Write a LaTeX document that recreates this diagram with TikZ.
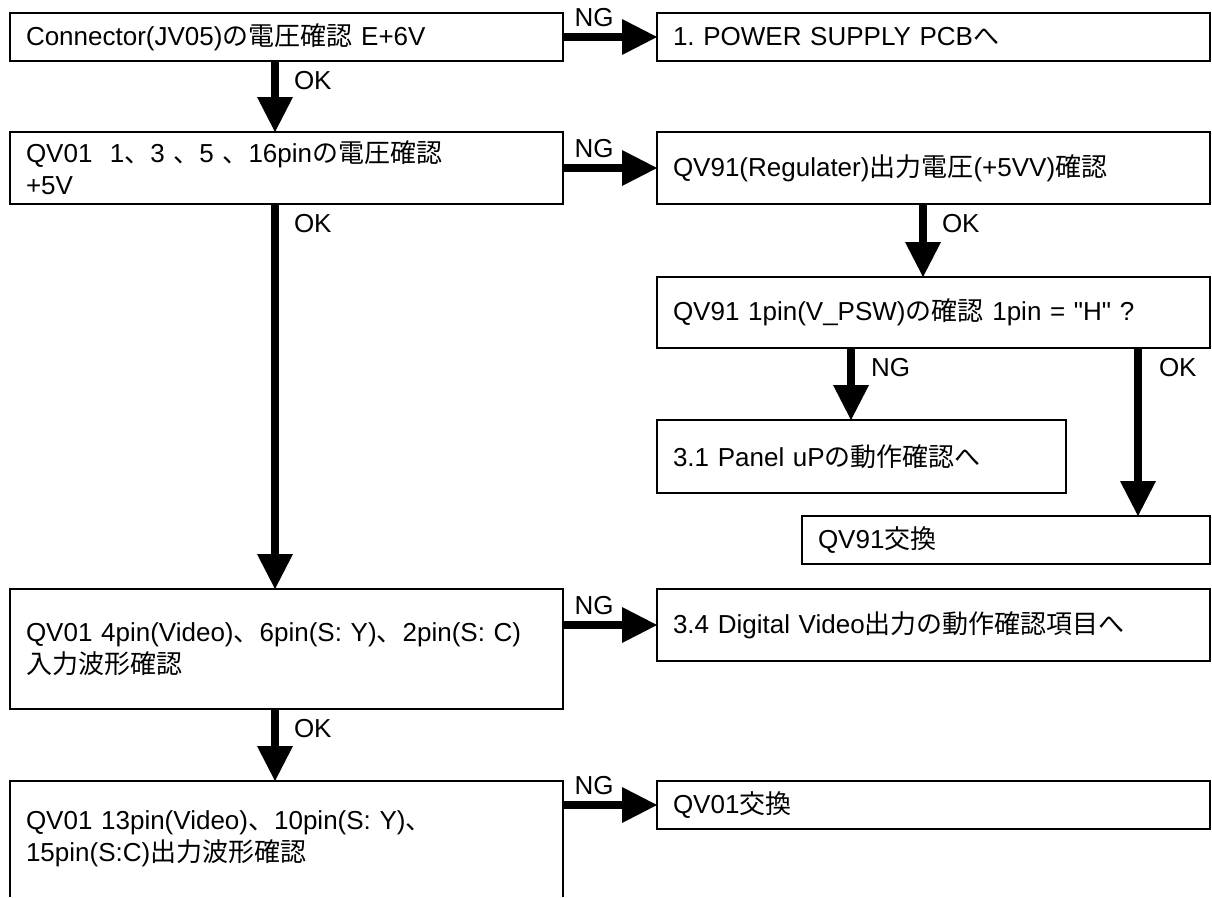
\documentclass[tikz,border=0pt]{standalone}
\usepackage{fontspec}
\setmainfont{Liberation Sans}
\newfontfamily\cjk{Noto Sans CJK JP}
\usetikzlibrary{arrows.meta}
\frenchspacing
\newcommand{\sq}{\XeTeXglyph\XeTeXcharglyph34\relax}
\tikzset{
  boxnode/.style={rectangle, line width=1.4pt, inner xsep=16pt, inner ysep=0pt, outer sep=0pt,
    align=left, font=\fontsize{26}{32}\selectfont, anchor=center},
  framed/.style={boxnode, draw},
  lab/.style={font=\fontsize{26}{30}\selectfont, inner sep=0pt},
  arr/.style={line width=8pt, -{Triangle[length=35pt,width=36pt,line width=0pt]}}
}
\newcommand{\bx}[7]{% name, left, top, right, bottom, style, text
  \node[#6, minimum width={#4-#2}, minimum height={#5-#3}, text width={#4-#2-32}]
    (#1) at ({(#2+#4)/2},{(#3+#5)/2}) {#7};}
\begin{document}
\begin{tikzpicture}[x=1pt,y=-1pt]
\useasboundingbox (0,0) rectangle (1212,897);
\coordinate (colA) at (275,0);
\coordinate (colB) at (923,0);
\coordinate (colC) at (851,0);
\coordinate (colD) at (1138,0);

\bx{b1}{10}{13}{563}{61}{framed}{Connector(JV05){\cjk の電圧確認} E+6V}
\bx{b2}{657}{13}{1210}{61}{framed}{1. POWER SUPPLY PCB{\cjk へ}}
\bx{b3}{10}{132}{563}{204}{framed}{QV01\ \ 1{\cjk 、}3 {\cjk 、}5 {\cjk 、}16pin{\cjk の電圧確認}\\+5V}
\bx{b4}{657}{132}{1210}{204}{framed}{QV91(Regulater){\cjk 出力電圧}(+5VV){\cjk 確認}}
\bx{b5}{657}{277}{1210}{348}{framed}{QV91 1pin(V\_PSW){\cjk の確認} 1pin = \sq H\sq{} ?}
\bx{b6}{657}{420}{1066}{493}{framed}{3.1 Panel uP{\cjk の動作確認へ}}
\bx{b7}{802}{516}{1210}{564}{framed}{QV91{\cjk 交換}}
\bx{b8}{10}{589}{563}{709}{framed}{QV01 4pin(Video){\cjk 、}6pin(S: Y){\cjk 、}2pin(S: C)\\{\cjk 入力波形確認}}
\bx{b9}{657}{589}{1210}{661}{framed}{3.4 Digital Video{\cjk 出力の動作確認項目へ}}
\bx{b10}{10}{781}{563}{897}{boxnode}{QV01 13pin(Video){\cjk 、}10pin(S: Y){\cjk 、}\\15pin(S:C){\cjk 出力波形確認}}
\bx{b11}{657}{781}{1210}{829}{framed}{QV01{\cjk 交換}}
\draw[line width=1.4pt] (b10.south west) -- (b10.north west) -- (b10.north east) -- (b10.south east);

% NG connectors
\draw[arr] (b1.east) -- node[lab, at start, anchor=base, xshift=31pt, yshift=11pt] {NG} (b2.west);
\draw[arr] (b3.east) -- node[lab, at start, anchor=base, xshift=31pt, yshift=11pt] {NG} (b4.west);
\draw[arr] (b8.east |- b9.west) -- node[lab, at start, anchor=base, xshift=31pt, yshift=11pt] {NG} (b9.west);
\draw[arr] (b10.east |- b11.west) -- node[lab, at start, anchor=base, xshift=31pt, yshift=11pt] {NG} (b11.west);

% vertical connectors
\draw[arr] (b1.south -| colA) -- node[lab, at start, anchor=base west, xshift=15pt, yshift=-28pt] {OK} (b3.north -| colA);
\draw[arr] (b3.south -| colA) -- node[lab, at start, anchor=base west, xshift=15pt, yshift=-28pt] {OK} (b8.north -| colA);
\draw[arr] (b8.south -| colA) -- node[lab, at start, anchor=base west, xshift=15pt, yshift=-28pt] {OK} (b10.north -| colA);
\draw[arr] (b4.south -| colB) -- node[lab, at start, anchor=base west, xshift=15pt, yshift=-28pt] {OK} (b5.north -| colB);
\draw[arr] (b5.south -| colC) -- node[lab, at start, anchor=base west, xshift=16pt, yshift=-28pt] {NG} (b6.north -| colC);
\draw[arr] (b5.south -| colD) -- node[lab, at start, anchor=base west, xshift=17pt, yshift=-28pt] {OK} (b7.north -| colD);
\end{tikzpicture}
\end{document}
